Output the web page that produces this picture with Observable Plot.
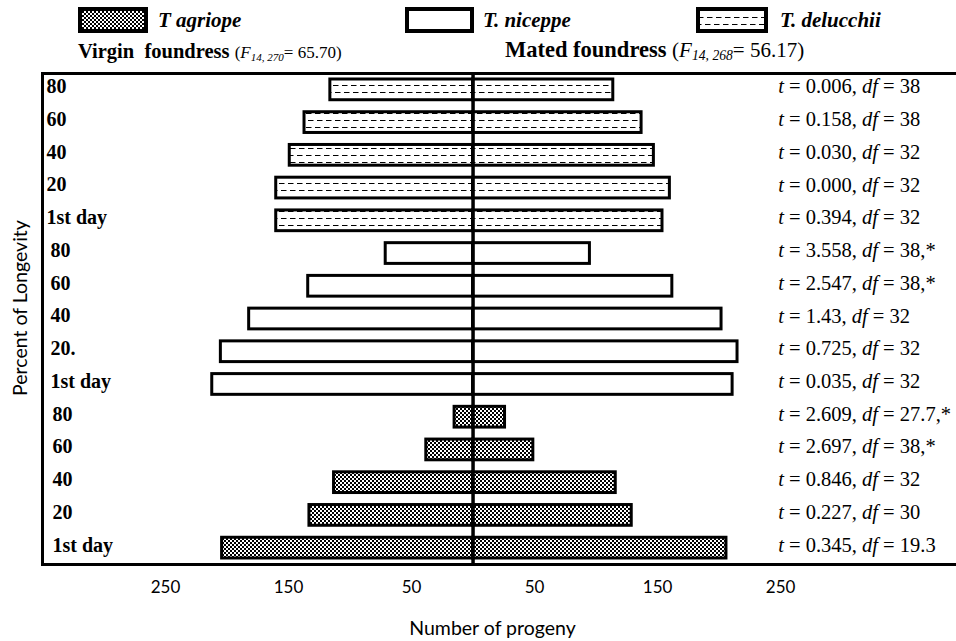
<!DOCTYPE html>
<html>
<head>
<meta charset="utf-8">
<script src="https://cdn.jsdelivr.net/npm/d3@7"></script>
<script src="https://cdn.jsdelivr.net/npm/@observablehq/plot@0.6"></script>
<style>
html, body { margin: 0; padding: 0; background: #fff; overflow: hidden; }
#wrap { position: relative; width: 956px; height: 641px; }
#header { position: relative; width: 956px; height: 68px; font-family: "Liberation Serif", "Times New Roman", serif; color: #000; }
.sw { position: absolute; top: 7px; }
.lg { position: absolute; top: 10px; font-size: 21px; line-height: 20px; font-weight: bold; font-style: italic; white-space: nowrap; }
.hd { position: absolute; white-space: nowrap; }
.hd.v { top: 41px; font-size: 20.5px; line-height: 20px; }
.hd.m { top: 39px; font-size: 22.5px; line-height: 22px; }
.hd .p1 { font-size: 17px; }
.hd .p2 { font-size: 21px; }
.hd sub { font-size: 0.65em; vertical-align: -0.25em; line-height: 0; }
</style>
</head>
<body>
<div id="wrap">
  <div id="header"></div>
  <div id="chart"></div>
</div>
<script>
// ---------------- data ----------------
const speciesOrder = ["T. delucchii", "T. niceppe", "T agriope"];          // top to bottom
const legendOrder = ["T agriope", "T. niceppe", "T. delucchii"];           // left to right
const rowSpecies = ["T. delucchii","T. delucchii","T. delucchii","T. delucchii","T. delucchii",
                    "T. niceppe","T. niceppe","T. niceppe","T. niceppe","T. niceppe",
                    "T agriope","T agriope","T agriope","T agriope","T agriope"];
const rowLabels = ["80","60","40","20","1st day",
                   "80","60","40","20.","1st day",
                   "80","60","40","20","1st day"];
const virgin = [116, 137, 149, 160, 160,  71, 134, 182, 205, 212,  15, 38, 113, 133, 204];
const mated  = [114, 137, 147, 160, 154,  95, 162, 202, 215, 211,  26, 49, 116, 129, 206];
const tStats  = ["0.006","0.158","0.030","0.000","0.394","3.558","2.547","1.43","0.725","0.035","2.609","2.697","0.846","0.227","0.345"];
const dfStats = ["38","38","32","32","32","38,*","38,*","32","32","32","27.7,*","38,*","32","30","19.3"];
const xTicks = [-250, -150, -50, 50, 150, 250];
const xTitle = "Number of progeny";
const yTitle = "Percent of Longevity";
const virginHeader = '<b>Virgin&nbsp; foundress</b> <span class="p1">(<i>F</i><sub><i>14, 270</i></sub>= 65.70)</span>';
const matedHeader  = '<b>Mated foundress</b> <span class="p2">(<i>F</i><sub><i>14, 268</i></sub>= 56.17)</span>';
const annoX = 248;

const SERIF = '"Liberation Serif", "Times New Roman", serif';
const SANS = 'Lato, "Open Sans", sans-serif';

// ---------------- patterns ----------------
const patternFill = {"T agriope": "url(#chk)", "T. niceppe": "white", "T. delucchii": "url(#dsh)"};
function addPatterns(sel, suffix) {
  const defs = sel.insert("defs", ":first-child");
  const c = defs.append("pattern").attr("id", "chk" + suffix).attr("patternUnits", "userSpaceOnUse")
    .attr("width", 4).attr("height", 4);
  c.append("rect").attr("width", 4).attr("height", 4).attr("fill", "white");
  c.append("rect").attr("width", 2).attr("height", 2).attr("fill", "black");
  c.append("rect").attr("x", 2).attr("y", 2).attr("width", 2).attr("height", 2).attr("fill", "black");
  const d = defs.append("pattern").attr("id", "dsh" + suffix).attr("patternUnits", "userSpaceOnUse")
    .attr("width", 9).attr("height", 14);
  d.append("rect").attr("width", 9).attr("height", 14).attr("fill", "white");
  d.append("line").attr("x1", 0).attr("x2", 5.5).attr("y1", 3.5).attr("y2", 3.5).attr("stroke", "black").attr("stroke-width", 1);
  d.append("line").attr("x1", 2).attr("x2", 7.5).attr("y1", 10.5).attr("y2", 10.5).attr("stroke", "black").attr("stroke-width", 1);
}

// ---------------- header (legend + panel titles) ----------------
const header = d3.select("#header");
const swLeft = [78, 405, 696], swW = [70, 69, 72], txtLeft = [158, 483, 780];
legendOrder.forEach((name, i) => {
  const s = header.append("svg").attr("class", "sw").style("left", swLeft[i] + "px")
    .attr("width", swW[i]).attr("height", 26);
  addPatterns(s, "L" + i);
  const f = patternFill[name].startsWith("url") ? patternFill[name].replace(")", "L" + i + ")") : patternFill[name];
  s.append("rect").attr("x", 2).attr("y", 2).attr("width", swW[i] - 4).attr("height", 22)
    .attr("fill", f).attr("stroke", "black").attr("stroke-width", 4);
  header.append("div").attr("class", "lg").style("left", txtLeft[i] + "px").text(name);
});
header.append("div").attr("class", "hd v").style("left", "78px").html(virginHeader);
header.append("div").attr("class", "hd m").style("left", "505px").html(matedHeader);

// ---------------- chart ----------------
const rows = rowLabels.map((label, i) => ({
  id: "r" + i, label, sp: rowSpecies[i], virgin: virgin[i], mated: mated[i], t: tStats[i], df: dfStats[i]
}));
const long = rows.flatMap(r => [
  {id: r.id, sp: r.sp, side: "Virgin", value: -r.virgin},
  {id: r.id, sp: r.sp, side: "Mated", value: r.mated}
]);
const labelDx = {"T. delucchii": 4, "T. niceppe": 8, "T agriope": 10};

const chart = Plot.plot({
  width: 956,
  height: 573,
  marginTop: 5,
  marginBottom: 77,
  marginLeft: 42,
  marginRight: 0,
  style: {fontFamily: SANS, fontSize: "17px", color: "black", background: "white", overflow: "hidden"},
  x: {domain: [-350, 393], ticks: xTicks, tickFormat: d => Math.abs(d), tickSize: 0, tickPadding: 16, label: null},
  y: {domain: rows.map(r => r.id), padding: 0, round: false, axis: null},
  color: {type: "ordinal", domain: speciesOrder, range: speciesOrder.map(s => patternFill[s])},
  marks: [
    Plot.barX(long, {y: "id", x1: 0, x2: "value", fill: "sp", stroke: "black", strokeWidth: 3, insetTop: 6, insetBottom: 6}),
    Plot.ruleX([0], {stroke: "black", strokeWidth: 3.5}),
    Plot.frame({stroke: "black", strokeWidth: 3, insetRight: -10}),
    ...speciesOrder.map(sp => Plot.text(rows.filter(r => r.sp === sp), {y: "id", text: "label", frameAnchor: "left",
      textAnchor: "start", dx: labelDx[sp], dy: -3, fontFamily: SERIF, fontWeight: "bold", fontSize: 20, fill: "black"})),
    Plot.text(rows, {y: "id", x: () => annoX, text: r => `t = ${r.t}, df = ${r.df}`, textAnchor: "start", dy: -3,
      fontFamily: SERIF, fontSize: 20.5, fill: "black"}),
    Plot.text([yTitle], {frameAnchor: "left", rotate: -90, textAnchor: "middle", dx: -22, dy: -11, text: d => d,
      fontSize: 19.5, fill: "black"}),
    Plot.text([xTitle], {frameAnchor: "bottom", textAnchor: "middle", lineAnchor: "middle", dx: -7, dy: 64, text: d => d,
      fontSize: 19.5, fill: "black"})
  ]
});

addPatterns(d3.select(chart), "");

// serif text marks: force the family as inline style
d3.select(chart).selectAll("[font-family]").each(function() {
  const ff = this.getAttribute("font-family");
  if (/Liberation Serif/.test(ff)) d3.select(this).style("font-family", SERIF);
});

// italicise t and df in the t-test annotations
d3.select(chart).selectAll("text").each(function() {
  const s = this.textContent;
  const m = s.match(/^t = (.*), df = (.*)$/);
  if (!m) return;
  const el = d3.select(this);
  el.style("font-family", SERIF);
  el.text(null);
  el.append("tspan").attr("font-style", "italic").text("t");
  el.append("tspan").text(" = " + m[1] + ", ");
  el.append("tspan").attr("font-style", "italic").text("df");
  el.append("tspan").text(" = " + m[2]);
});

document.getElementById("chart").appendChild(chart);
</script>
</body>
</html>
